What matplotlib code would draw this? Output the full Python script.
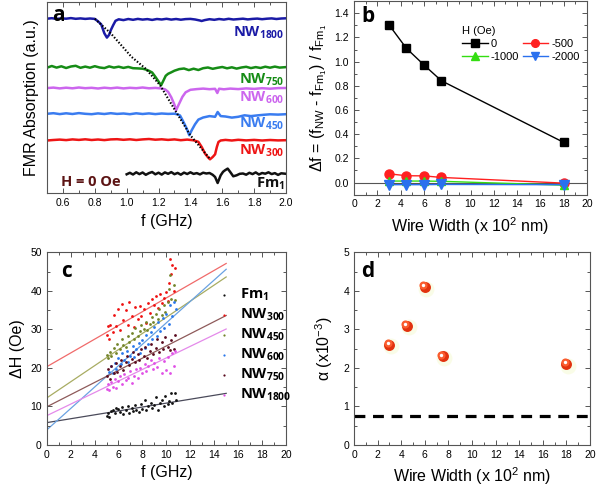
import numpy as np
import matplotlib
matplotlib.use("Agg")
import matplotlib.pyplot as plt
from matplotlib.ticker import MultipleLocator
from matplotlib.transforms import ScaledTranslation

plt.rcParams['font.family'] = ['Liberation Sans', 'DejaVu Sans']
plt.rcParams['mathtext.default'] = 'regular'

# ---- panel a: FMR absorption traces at H = 0 (arbitrary units) ----
f_nw1800 = [0.50, 0.53, 0.56, 0.59, 0.62, 0.65, 0.68, 0.71, 0.74, 0.77, 0.80, 0.82, 0.84, 0.85, 0.86, 0.876, 0.89, 0.90, 0.915, 0.93,
            0.95, 0.98, 1.01, 1.04, 1.07, 1.10, 1.13, 1.16, 1.19, 1.22, 1.25, 1.28, 1.31, 1.34, 1.37, 1.40, 1.43, 1.46, 1.47, 1.49,
            1.52, 1.55, 1.58, 1.61, 1.64, 1.67, 1.70, 1.73, 1.76, 1.79, 1.82, 1.85, 1.88, 1.91, 1.94, 1.97, 2.00]
a_nw1800 = [174.6, 175.1, 174.4, 174.9, 174.6, 175.2, 174.5, 174.9, 174.4, 174.8, 174.4, 172.0, 169.0, 164.5, 160.0, 155.7, 158.5, 163.0, 168.0, 172.5,
            174.0, 173.2, 174.3, 173.5, 174.4, 173.7, 174.2, 173.4, 174.3, 173.8, 174.5, 173.7, 174.3, 173.6, 174.2, 174.4, 173.8, 172.8, 172.3, 173.2,
            174.1, 173.5, 174.3, 173.7, 174.5, 173.8, 174.2, 174.6, 173.9, 174.4, 174.7, 174.1, 174.6, 174.9, 174.3, 174.8, 175.0]

f_nw750 = [0.50, 0.53, 0.56, 0.59, 0.62, 0.65, 0.68, 0.71, 0.74, 0.77, 0.80, 0.83, 0.86, 0.89, 0.92, 0.95, 0.98, 1.01, 1.04, 1.07,
           1.10, 1.12, 1.14, 1.16, 1.18, 1.20, 1.216, 1.23, 1.245, 1.26, 1.28, 1.30, 1.33, 1.36, 1.39, 1.42, 1.45, 1.48, 1.51, 1.54,
           1.57, 1.60, 1.63, 1.66, 1.69, 1.72, 1.75, 1.78, 1.81, 1.84, 1.87, 1.90, 1.93, 1.96, 2.00]
a_nw750 = [125.6, 127.3, 125.7, 127.0, 125.3, 126.8, 127.5, 125.5, 126.7, 125.6, 127.1, 125.8, 125.2, 126.9, 125.7, 126.6, 125.4, 126.4, 125.1, 124.9,
           124.6, 123.8, 122.5, 120.8, 116.5, 111.8, 108.0, 112.5, 117.5, 119.5, 121.0, 122.6, 124.2, 124.8, 123.2, 124.6, 123.3, 125.1, 125.8, 124.5,
           125.5, 126.3, 125.0, 126.0, 124.7, 125.8, 126.5, 125.2, 126.2, 125.3, 126.6, 125.6, 126.7, 125.7, 126.2]

f_nw600 = [0.50, 0.54, 0.58, 0.62, 0.66, 0.70, 0.74, 0.78, 0.82, 0.86, 0.90, 0.94, 0.98, 1.02, 1.06, 1.10, 1.14, 1.18, 1.22, 1.24,
           1.26, 1.28, 1.30, 1.31, 1.32, 1.335, 1.35, 1.37, 1.40, 1.44, 1.48, 1.52, 1.555, 1.569, 1.58, 1.61, 1.65, 1.70, 1.75, 1.80,
           1.85, 1.90, 1.95, 2.00]
a_nw600 = [105.2, 105.7, 104.9, 105.6, 105.0, 105.8, 105.1, 105.5, 104.8, 105.6, 105.0, 105.7, 104.9, 105.5, 105.1, 105.8, 105.0, 105.4, 104.8, 104.0,
           101.5, 96.0, 88.5, 83.0, 86.5, 91.5, 96.5, 101.0, 103.5, 104.2, 104.7, 104.1, 104.5, 100.3, 104.6, 104.0, 104.7, 104.2, 104.9, 104.4,
           105.1, 104.6, 105.2, 105.3]

f_nw450 = [0.50, 0.54, 0.58, 0.62, 0.66, 0.70, 0.74, 0.78, 0.82, 0.86, 0.90, 0.94, 0.98, 1.02, 1.06, 1.10, 1.14, 1.18, 1.22, 1.26,
           1.30, 1.32, 1.335, 1.356, 1.377, 1.393, 1.408, 1.429, 1.45, 1.48, 1.52, 1.555, 1.571, 1.59, 1.62, 1.66, 1.70, 1.74, 1.78, 1.82,
           1.86, 1.90, 1.95, 2.00]
a_nw450 = [79.5, 80.1, 79.2, 80.0, 79.3, 80.2, 79.5, 79.1, 79.9, 79.3, 80.1, 79.4, 79.8, 79.1, 80.0, 79.3, 79.9, 79.2, 79.8, 79.4,
           79.6, 78.9, 77.8, 71.5, 64.7, 58.0, 63.0, 69.0, 73.7, 75.8, 77.2, 76.5, 81.3, 77.2, 76.8, 75.7, 76.5, 78.0, 77.2, 77.9,
           78.5, 79.0, 78.7, 79.1]

f_nw300 = [0.50, 0.54, 0.58, 0.62, 0.66, 0.70, 0.74, 0.78, 0.82, 0.86, 0.90, 0.94, 0.98, 1.02, 1.06, 1.10, 1.14, 1.18, 1.22, 1.26,
           1.30, 1.34, 1.38, 1.42, 1.45, 1.471, 1.492, 1.512, 1.523, 1.54, 1.555, 1.566, 1.576, 1.59, 1.62, 1.66, 1.70, 1.75, 1.80, 1.85,
           1.90, 1.95, 2.00]
a_nw300 = [52.8, 53.3, 53.7, 53.2, 53.9, 53.4, 54.0, 53.3, 53.8, 53.2, 53.9, 54.1, 53.5, 54.0, 53.3, 53.9, 54.3, 53.6, 54.0, 53.4,
           53.9, 53.1, 53.7, 53.0, 51.5, 46.3, 39.7, 35.7, 34.0, 36.3, 39.0, 46.3, 51.3, 52.8, 53.4, 52.8, 53.5, 52.9, 53.4, 52.8,
           53.3, 52.9, 53.1]

f_fm1 = [1.00, 1.02, 1.04, 1.06, 1.08, 1.10, 1.12, 1.14, 1.16, 1.18, 1.20, 1.22, 1.24, 1.26, 1.28, 1.30, 1.32, 1.34, 1.36, 1.38,
         1.40, 1.42, 1.44, 1.46, 1.48, 1.50, 1.52, 1.54, 1.555, 1.571, 1.59, 1.605, 1.617, 1.634, 1.65, 1.669, 1.69, 1.71, 1.73, 1.75,
         1.77, 1.79, 1.81, 1.83, 1.85, 1.87, 1.89, 1.91, 1.93, 1.95, 1.97, 2.00]
a_fm1 = [19.0, 20.5, 18.8, 21.0, 19.2, 20.8, 18.5, 20.2, 21.3, 19.0, 20.6, 18.7, 20.9, 19.5, 21.2, 19.1, 20.4, 18.6, 20.7, 19.3,
         21.0, 19.4, 20.2, 18.9, 20.6, 19.8, 20.3, 18.5, 16.3, 10.3, 18.0, 21.5, 23.0, 24.7, 21.3, 17.0, 18.0, 19.5, 19.8, 18.6,
         20.5, 19.2, 20.9, 18.8, 20.3, 19.6, 21.0, 19.2, 20.2, 18.4, 20.0, 19.5]

# dotted guide through the resonance dips
guide_f = [0.80, 0.90, 1.03, 1.12, 1.21, 1.30, 1.40, 1.52]
guide_a = [174.5, 160.0, 136.5, 124.5, 108.0, 84.0, 58.0, 35.0]

# ---- panel b: relative frequency shift ----
width = [3, 4.5, 6, 7.5, 18]
df_0 = [1.305, 1.11, 0.973, 0.842, 0.332]
df_500 = [0.072, 0.056, 0.055, 0.042, -0.005]
df_1000 = [0.012, 0.012, 0.012, 0.010, -0.022]
df_2000 = [-0.018, -0.018, -0.018, -0.016, -0.018]

# ---- panel c: linewidth vs frequency ----
c_fm1_x = [5.0, 5.1, 5.2, 5.4, 5.5, 5.7, 5.8, 6.0, 6.1, 6.3, 6.4, 6.6, 6.8, 6.9, 7.1, 7.2, 7.4, 7.5, 7.7, 7.9,
           8.0, 8.2, 8.3, 8.5, 8.7, 8.8, 9.0, 9.1, 9.3, 9.5, 9.6, 9.8, 9.9, 10.1, 10.2, 10.4, 10.5, 10.7, 10.8]
c_fm1_y = [7.6, 8.3, 7.3, 8.8, 9.1, 8.2, 9.6, 9.3, 8.6, 9.8, 8.0, 9.2, 10.1, 8.4, 9.5, 8.7, 10.3, 9.0, 8.6, 10.6,
           9.4, 11.8, 9.1, 10.2, 11.0, 9.6, 10.5, 12.4, 9.2, 10.8, 11.6, 10.2, 12.8, 10.6, 11.3, 13.4, 10.9, 13.6, 11.8]
c_nw1800_x = [5.0, 5.1, 5.2, 5.4, 5.5, 5.7, 5.8, 6.0, 6.1, 6.3, 6.5, 6.6, 6.8, 7.0, 7.1, 7.3, 7.5, 7.6, 7.8, 8.0,
              8.2, 8.3, 8.5, 8.7, 8.9, 9.0, 9.2, 9.4, 9.6, 9.8, 10.0, 10.1, 10.3, 10.5, 10.6, 10.7]
c_nw1800_y = [14.6, 15.8, 14.4, 16.3, 15.0, 17.2, 14.8, 16.6, 17.9, 15.7, 18.4, 16.9, 17.5, 19.2, 16.2, 18.0, 19.6, 17.4, 20.1, 18.6,
              21.0, 19.2, 20.4, 22.0, 19.6, 21.4, 20.2, 22.6, 18.8, 21.8, 19.4, 22.9, 18.6, 23.8, 20.6, 24.4]
c_nw750_x = [5.0, 5.1, 5.3, 5.4, 5.6, 5.8, 5.9, 6.1, 6.2, 6.4, 6.6, 6.7, 6.9, 7.1, 7.2, 7.4, 7.6, 7.7, 7.9, 8.1,
             8.2, 8.4, 8.6, 8.7, 8.9, 9.1, 9.2, 9.4, 9.6, 9.7, 9.9, 10.1, 10.3, 10.4, 10.6, 10.7]
c_nw750_y = [18.0, 19.8, 17.2, 20.4, 18.6, 21.2, 19.0, 20.6, 22.1, 19.5, 21.6, 23.0, 20.8, 22.4, 24.2, 21.5, 23.6, 22.0, 24.8, 23.1,
             25.4, 22.6, 24.4, 26.2, 23.5, 25.1, 27.6, 24.2, 26.6, 24.9, 28.1, 25.4, 24.6, 27.2, 24.8, 28.6]
c_nw600_x = [5.2, 5.4, 5.5, 5.7, 5.8, 6.0, 6.2, 6.3, 6.5, 6.7, 6.8, 7.0, 7.2, 7.3, 7.5, 7.7, 7.8, 8.0, 8.2, 8.3,
             8.5, 8.7, 8.8, 9.0, 9.2, 9.3, 9.5, 9.7, 9.8, 10.0, 10.2, 10.3, 10.5, 10.6, 10.8]
c_nw600_y = [19.0, 20.5, 18.6, 21.4, 19.8, 22.6, 20.9, 23.8, 22.0, 24.5, 21.6, 23.2, 25.6, 22.8, 24.9, 26.4, 23.9, 27.2, 25.1, 28.6,
             26.3, 29.4, 27.5, 30.6, 28.2, 31.8, 29.6, 32.9, 30.4, 34.1, 31.5, 36.2, 33.4, 37.0, 35.2]
c_nw450_x = [5.0, 5.1, 5.3, 5.4, 5.6, 5.8, 5.9, 6.1, 6.3, 6.4, 6.6, 6.8, 6.9, 7.1, 7.3, 7.4, 7.6, 7.8, 7.9, 8.1,
             8.3, 8.4, 8.6, 8.8, 8.9, 9.1, 9.3, 9.4, 9.6, 9.8, 9.9, 10.1, 10.2, 10.3, 10.4, 10.6, 10.7]
c_nw450_y = [23.4, 22.5, 24.1, 23.0, 25.2, 24.0, 26.1, 25.0, 27.4, 26.0, 25.4, 28.2, 26.8, 29.1, 27.6, 30.4, 28.4, 29.6, 31.2, 30.0,
             32.0, 29.8, 31.4, 33.2, 32.0, 34.0, 32.6, 35.2, 33.8, 36.4, 34.6, 37.2, 40.6, 44.2, 38.0, 41.6, 37.5]
c_nw300_x = [5.0, 5.1, 5.2, 5.3, 5.5, 5.6, 5.8, 6.0, 6.1, 6.3, 6.4, 6.6, 6.8, 6.9, 7.1, 7.3, 7.4, 7.6, 7.8, 7.9,
             8.1, 8.3, 8.5, 8.6, 8.8, 9.0, 9.1, 9.3, 9.5, 9.6, 9.8, 10.0, 10.1, 10.2, 10.3, 10.4, 10.5, 10.6, 10.7]
c_nw300_y = [28.5, 30.8, 27.6, 31.2, 29.2, 33.8, 31.0, 35.2, 29.8, 36.6, 32.4, 34.9, 31.2, 37.2, 33.6, 30.6, 35.8, 32.8, 36.0, 33.4,
             35.2, 31.6, 36.9, 34.2, 37.8, 36.4, 38.6, 35.6, 39.2, 36.8, 38.2, 39.6, 37.4, 42.0, 48.2, 44.4, 46.6, 40.0, 46.0]

# linear fits, value at f = 0 and f = 15 GHz
fit_f = [0, 15]
fit_fm1 = [5.8, 13.4]
fit_nw300 = [20.3, 47.1]
fit_nw450 = [12.2, 43.6]
fit_nw600 = [3.9, 45.6]
fit_nw750 = [9.9, 33.6]
fit_nw1800 = [7.6, 30.1]

# ---- panel d: damping ----
alpha_width = [3, 4.5, 6, 7.5, 18]
alpha_val = [2.6, 3.1, 4.1, 2.3, 2.1]
alpha_film = 0.75

fig = plt.figure(figsize=(5.99, 4.90), dpi=100)
W, H = 599, 490

def box(x0, y0, x1, y1):
    # pixel box (top-left origin) -> figure fraction rect
    return [x0 / W, 1 - y1 / H, (x1 - x0) / W, (y1 - y0) / H]

ax_a = fig.add_axes(box(47, 2.5, 286, 193.3))
ax_b = fig.add_axes(box(354, 1.2, 587, 194.6))
ax_c = fig.add_axes(box(46.7, 252.3, 286, 445))
ax_d = fig.add_axes(box(354, 252.3, 590, 445))

frame = '#555555'
for ax in [ax_a, ax_b, ax_c, ax_d]:
    ax.tick_params(which='both', direction='in', top=True, right=True, colors=frame,
                   labelcolor='black', labelsize=7.5, width=0.7)
    ax.tick_params(which='major', length=3.5)
    ax.tick_params(which='minor', length=2)
    for s in ax.spines.values():
        s.set_color(frame)
        s.set_linewidth(0.8)

lab_font = dict(fontsize=11.5)
bold_font = dict(family='Open Sans', fontweight='bold')

# a
traces = [(f_nw1800, a_nw1800, '#1a1aa6'), (f_nw750, a_nw750, '#168c16'), (f_nw600, a_nw600, '#cc66ee'),
          (f_nw450, a_nw450, '#3a7cf0'), (f_nw300, a_nw300, '#ee1515'), (f_fm1, a_fm1, '#111111')]
for fx, ay, col in traces:
    ax_a.plot(fx, ay, color=col, lw=1.8)
ax_a.plot(guide_f, guide_a, color='black', lw=1.5, linestyle=(0, (0.7, 0.9)), zorder=5)
ax_a.set_xlim(0.5, 2.0)
ax_a.set_ylim(0, 190.8)
ax_a.xaxis.set_major_locator(MultipleLocator(0.2))
ax_a.xaxis.set_minor_locator(MultipleLocator(0.1))
ax_a.set_yticks([])
ax_a.tick_params(left=False, right=False)
ax_a.set_xlabel('f (GHz)', labelpad=4, **lab_font)
ax_a.set_ylabel('FMR Absorption (a.u.)', labelpad=6, **lab_font)

a_labels = [('NW$_{1800}$', 157, '#1a1aa6'), ('NW$_{750}$', 110, '#168c16'), ('NW$_{600}$', 91.5, '#cc66ee'),
            ('NW$_{450}$', 65.5, '#3a7cf0'), ('NW$_{300}$', 39, '#ee1515'), ('Fm$_1$', 5.5, '#111111')]
for txt, yv, col in a_labels:
    ax_a.text(1.99, yv, txt, color=col, ha='right', va='baseline', fontsize=10.5, **bold_font)
ax_a.text(0.06, 0.04, 'H = 0 Oe', transform=ax_a.transAxes, color='#5c1414', fontsize=10.5, **bold_font)
ax_a.text(0.02, 0.985, 'a', transform=ax_a.transAxes, va='top', fontsize=15, **bold_font)

# b
ax_b.axhline(0, color=frame, lw=0.8, zorder=1)
h0, = ax_b.plot(width, df_0, color='black', lw=1, marker='s', ms=6, label='0')
h500, = ax_b.plot(width, df_500, color='#ff2020', lw=1, marker='o', ms=6.5, label='-500')
h1000, = ax_b.plot(width, df_1000, color='#33dd11', lw=1, marker='^', ms=6, label='-1000')
h2000, = ax_b.plot(width, df_2000, color='#2a70ee', lw=1, marker='v', ms=6.5, label='-2000')
ax_b.set_xlim(0, 20)
ax_b.set_ylim(-0.1, 1.5)
ax_b.xaxis.set_major_locator(MultipleLocator(2))
ax_b.xaxis.set_minor_locator(MultipleLocator(1))
ax_b.yaxis.set_major_locator(MultipleLocator(0.2))
ax_b.yaxis.set_minor_locator(MultipleLocator(0.1))
ax_b.set_xlabel('Wire Width (x 10$^2$ nm)', labelpad=4, **lab_font)
ax_b.set_ylabel('Δf = (f$_{NW}$ - f$_{Fm_1}$) / f$_{Fm_1}$', labelpad=4, **lab_font)
# two columns filled row by row: 0, -500 / -1000, -2000
ax_b.legend([h0, h1000, h500, h2000], ['0', '-1000', '-500', '-2000'], title='H (Oe)', ncol=2,
            frameon=False, fontsize=8, title_fontsize=8, loc='upper left', bbox_to_anchor=(0.44, 0.9),
            handlelength=2.3, handletextpad=0.3, columnspacing=0.3, labelspacing=0.25, borderpad=0,
            alignment='left', markerscale=0.85)
ax_b.text(0.03, 0.975, 'b', transform=ax_b.transAxes, va='top', fontsize=15, **bold_font)

# c
c_series = [('Fm$_1$', c_fm1_x, c_fm1_y, fit_fm1, '#111111', '#4a4a5a'),
            ('NW$_{300}$', c_nw300_x, c_nw300_y, fit_nw300, '#ee1111', '#f06a6a'),
            ('NW$_{450}$', c_nw450_x, c_nw450_y, fit_nw450, '#72842a', '#a8ac62'),
            ('NW$_{600}$', c_nw600_x, c_nw600_y, fit_nw600, '#2a78ea', '#6aa2e2'),
            ('NW$_{750}$', c_nw750_x, c_nw750_y, fit_nw750, '#5a0a1e', '#8e5a5a'),
            ('NW$_{1800}$', c_nw1800_x, c_nw1800_y, fit_nw1800, '#e050e6', '#e48aea')]
for name, xs, ys, fit, col, fcol in c_series:
    ax_c.plot(fit_f, fit, color=fcol, lw=0.9, zorder=1)
for name, xs, ys, fit, col, fcol in c_series:
    ax_c.scatter(xs, ys, s=4, marker='o', color=col, linewidths=0, label=name, zorder=3)
ax_c.set_xlim(0, 20)
ax_c.set_ylim(0, 50)
ax_c.xaxis.set_major_locator(MultipleLocator(2))
ax_c.xaxis.set_minor_locator(MultipleLocator(1))
ax_c.yaxis.set_major_locator(MultipleLocator(10))
ax_c.yaxis.set_minor_locator(MultipleLocator(5))
ax_c.set_xlabel('f (GHz)', labelpad=4, **lab_font)
ax_c.set_ylabel('ΔH (Oe)', labelpad=4, **lab_font)
ax_c.legend(frameon=False, loc='upper left', bbox_to_anchor=(0.68, 0.86), handlelength=1.0,
            handletextpad=0.6, labelspacing=0.25, borderpad=0, scatterpoints=1, markerscale=0.8,
            prop={'family': 'Open Sans', 'weight': 'bold', 'size': 10.5})
ax_c.text(0.06, 0.955, 'c', transform=ax_c.transAxes, va='top', fontsize=15, **bold_font)

# d
ax_d.axhline(alpha_film, color='black', lw=2.3, dashes=(3.4, 2.4))
glow = ax_d.transData + ScaledTranslation(1.2 / 72, -1.2 / 72, fig.dpi_scale_trans)
shine = ax_d.transData + ScaledTranslation(-1.2 / 72, 1.2 / 72, fig.dpi_scale_trans)
ax_d.scatter(alpha_width, alpha_val, s=130, color='#f6fad8', alpha=0.6, linewidths=0, transform=glow, zorder=2)
ax_d.scatter(alpha_width, alpha_val, s=62, color='#e2320e', linewidths=0, zorder=3)
ax_d.scatter(alpha_width, alpha_val, s=34, color='#fa5c2e', linewidths=0, transform=shine, zorder=4)
ax_d.scatter(alpha_width, alpha_val, s=6, color='white', linewidths=0, transform=shine, zorder=5)
ax_d.set_xlim(0, 20)
ax_d.set_ylim(0, 5)
ax_d.xaxis.set_major_locator(MultipleLocator(2))
ax_d.xaxis.set_minor_locator(MultipleLocator(1))
ax_d.yaxis.set_major_locator(MultipleLocator(1))
ax_d.yaxis.set_minor_locator(MultipleLocator(0.5))
ax_d.set_xlabel('Wire Width (x 10$^2$ nm)', labelpad=4, **lab_font)
ax_d.set_ylabel('α (x10$^{-3}$)', labelpad=6, **lab_font)
ax_d.text(0.03, 0.955, 'd', transform=ax_d.transAxes, va='top', fontsize=15, **bold_font)

fig.savefig('out.png', dpi=100)
